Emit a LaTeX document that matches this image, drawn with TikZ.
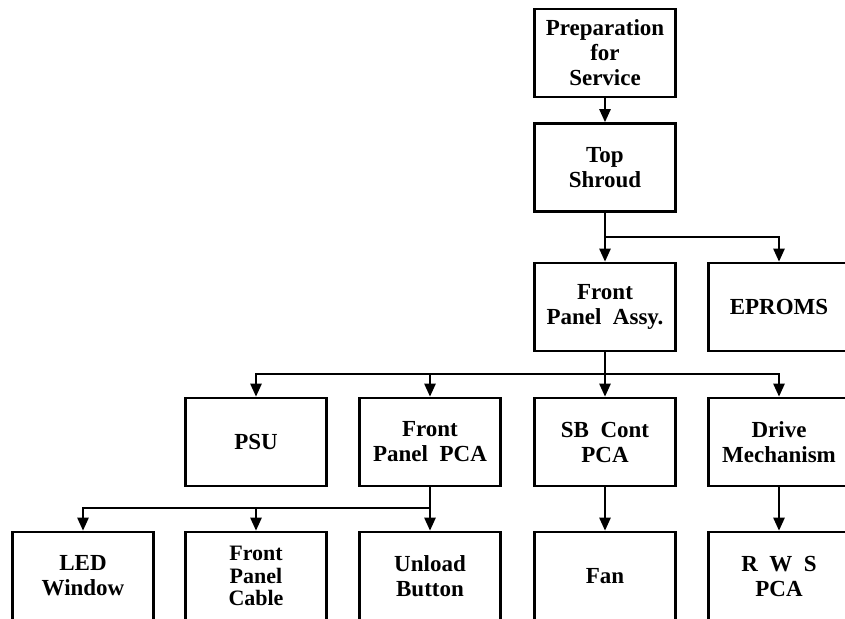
\documentclass[tikz,border=0pt]{standalone}
\usepackage{fontspec}
\setmainfont{Liberation Serif}
\usepackage{tikz}
\usetikzlibrary{arrows.meta}

\begin{document}
\begin{tikzpicture}[x=1pt,y=-1pt,
    unit/.style ={rectangle, draw, line width=2.6pt, minimum width=141pt,
      minimum height=88pt, align=center, inner sep=0pt,
      font=\fontsize{23}{25}\selectfont\bfseries},
    feed/.style ={line width=2.4pt, -{Triangle[length=13pt,width=11pt]}}]
   \useasboundingbox (0,0) rectangle (845,618);
   \clip (0,0) rectangle (845,618);
   % top of the tree
   \node[unit] (prep) at (605,53)  {Preparation\\for\\Service};
   \node[unit] (shroud) at (605,167.5)  {Top\\Shroud};
   \node[unit] (fpassy) at (605,307)  {Front\\Panel\ \ Assy.};
   \node[unit] (eproms) at (779,307)  {EPROMS};
   % second level
   \node[unit] (psu) at (256,442)  {PSU};
   \node[unit] (fppca) at (430,442)  {Front\\Panel\ \ PCA};
   \node[unit] (sbcont) at (605,442)  {SB\ \ Cont\\PCA};
   \node[unit] (drive) at (779,442)  {Drive\\Mechanism};
   % bottom row
   \node[unit] (led) at (83,576)  {LED\\Window};
   \node[unit, font=\fontsize{22}{22.5}\selectfont\bfseries] (cable) at (256,576)  {Front\\Panel\\Cable};
   \node[unit] (unload) at (430,576)  {Unload\\Button};
   \node[unit] (fan) at (605,576)  {Fan};
   \node[unit] (rws) at (779,576)  {R\ \ W\ \ S\\PCA};
   % branch points
   \coordinate (j1) at (605,237);
   \coordinate (j2) at (605,374);
   \coordinate (j3) at (430,508);
   \draw[feed] (prep) to (shroud);
   \draw[line width=2.4pt] (shroud) to (j1);
   \draw[feed] (j1) to (fpassy);
   \draw[feed] (j1) -| (eproms);
   \draw[line width=2.4pt] (fpassy) to (j2);
   \draw[feed] (j2) -| (psu);
   \draw[feed] (j2) -| (fppca);
   \draw[feed] (j2) to (sbcont);
   \draw[feed] (j2) -| (drive);
   \draw[line width=2.4pt] (fppca) to (j3);
   \draw[feed] (j3) -| (led);
   \draw[feed] (j3) -| (cable);
   \draw[feed] (j3) to (unload);
   \draw[feed] (sbcont) to (fan);
   \draw[feed] (drive) to (rws);
 \end{tikzpicture}
\end{document}
